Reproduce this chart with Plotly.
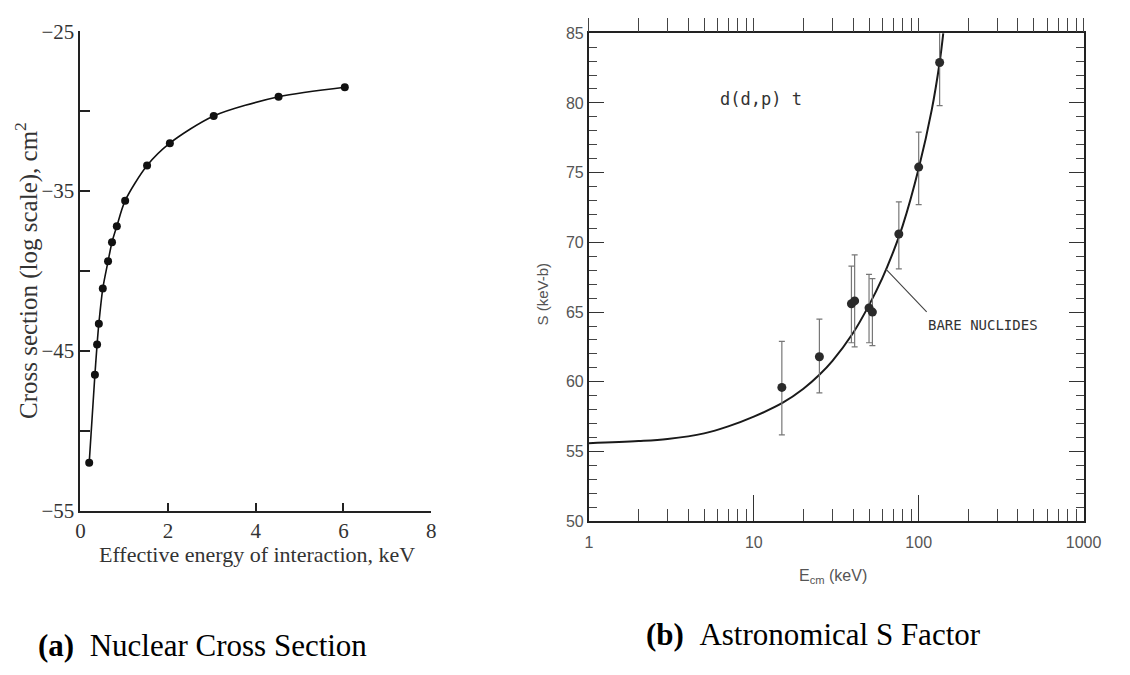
import plotly.graph_objects as go

# ---------- (a) Nuclear cross section ----------
energy_a = [0.2, 0.33, 0.38, 0.42, 0.51, 0.63, 0.72, 0.83, 1.02, 1.52, 2.04, 3.04, 4.52, 6.03]
xsec_a = [-52.0, -46.5, -44.6, -43.3, -41.1, -39.4, -38.2, -37.2, -35.6, -33.4, -32.0, -30.3, -29.1, -28.5]
xticks_a = [0, 2, 4, 6, 8]
yticks_a = [-55, -50, -45, -40, -35, -30, -25]
yticktext_a = ["\u221255", "", "\u221245", "", "\u221235", "", "\u221225"]

# ---------- (b) Astrophysical S factor ----------
curve_E = [1, 2, 3, 5, 7, 10, 15, 20, 25, 30, 40, 50, 60, 70, 80, 100, 120, 134, 141]
curve_S = [55.6, 55.75, 55.9, 56.3, 56.8, 57.5, 58.5, 59.5, 60.5, 61.5, 63.5, 65.5, 67.4, 69.3, 71.2, 75.3, 79.5, 82.9, 85.0]
data_E = [14.8, 25.0, 39.1, 40.9, 50.0, 52.4, 75.8, 100, 134]
data_S = [59.6, 61.8, 65.6, 65.8, 65.3, 65.0, 70.6, 75.4, 82.9]
data_hi = [62.9, 64.5, 68.3, 69.1, 67.7, 67.4, 72.9, 77.9, 86.0]
data_lo = [56.2, 59.2, 62.8, 62.5, 62.8, 62.6, 68.1, 72.7, 79.8]
xticks_b = [1, 10, 100, 1000]
xminor_b = [m * d for d in (1, 10, 100) for m in range(2, 10)]
yticks_b = [50, 55, 60, 65, 70, 75, 80, 85]
yminor_b = [v for v in range(50, 86) if v % 5]

W, H = 1130, 675
def px(x):
    return x / W
def py(y):
    return 1 - y / H

fig = go.Figure()

fig.add_trace(go.Scatter(
    x=energy_a, y=xsec_a, mode="lines+markers",
    line=dict(color="#111111", width=1.6, shape="spline", smoothing=0.8),
    marker=dict(color="#111111", size=8),
    xaxis="x", yaxis="y", showlegend=False,
))

fig.add_trace(go.Scatter(
    x=curve_E, y=curve_S, mode="lines",
    line=dict(color="#1a1a1a", width=2, shape="spline", smoothing=1.0),
    xaxis="x2", yaxis="y2", showlegend=False, cliponaxis=True,
))

fig.add_trace(go.Scatter(
    x=data_E, y=data_S, mode="markers",
    marker=dict(color="#2a2a2a", size=9),
    error_y=dict(type="data", symmetric=False,
                 array=[h - s for h, s in zip(data_hi, data_S)],
                 arrayminus=[s - l for s, l in zip(data_S, data_lo)],
                 color="#777777", thickness=1.2, width=3),
    xaxis="x2", yaxis="y2", showlegend=False,
))

# invisible trace so that the top (outward-tick) axis gets drawn
fig.add_trace(go.Scatter(
    x=data_E, y=data_S, mode="markers", marker=dict(opacity=0),
    hoverinfo="skip", xaxis="x3", yaxis="y2", showlegend=False,
))

serif = "Liberation Serif, Times New Roman, serif"
sans = "Liberation Sans, Arial, sans-serif"
mono = "DejaVu Sans Mono, monospace"

fig.update_layout(
    width=W, height=H, autosize=False,
    margin=dict(l=0, r=0, t=0, b=0),
    paper_bgcolor="white", plot_bgcolor="white",
    xaxis=dict(
        domain=[px(77), px(435)], anchor="y", range=[0, 8],
        tickmode="array", tickvals=xticks_a, ticktext=[str(v) for v in xticks_a],
        ticks="inside", ticklen=8, tickwidth=1.5, tickcolor="#222",
        showline=True, linecolor="#222", linewidth=1.8,
        showgrid=False, zeroline=False,
        tickfont=dict(family=serif, size=21, color="#333"),
    ),
    yaxis=dict(
        domain=[py(517), py(20)], anchor="x", range=[-55, -25],
        tickmode="array", tickvals=yticks_a, ticktext=yticktext_a,
        ticks="inside", ticklen=10, tickwidth=1.5, tickcolor="#222",
        showline=True, linecolor="#222", linewidth=1.8,
        showgrid=False, zeroline=False,
        tickfont=dict(family=serif, size=21, color="#333"),
    ),
    xaxis2=dict(
        domain=[px(596), px(1101)], anchor="y2", type="log", range=[0, 3],
        tickmode="array", tickvals=xticks_b, ticktext=[str(v) for v in xticks_b],
        ticks="inside", ticklen=26, tickwidth=1.2, tickcolor="#333",
        minor=dict(tickmode="array", tickvals=xminor_b, ticks="inside", ticklen=12,
                   tickwidth=1.2, tickcolor="#444", showgrid=False),
        showline=True, mirror=True, linecolor="#222", linewidth=1.8,
        showgrid=False, zeroline=False, ticklabelstandoff=6,
        tickfont=dict(family=sans, size=16, color="#555"),
    ),
    xaxis3=dict(
        domain=[px(596), px(1101)], anchor="y2", overlaying="x2", side="top",
        type="log", range=[0, 3],
        tickmode="array", tickvals=xticks_b + xminor_b, showticklabels=False,
        ticks="outside", ticklen=14, tickwidth=1.2, tickcolor="#444",
        showline=False, showgrid=False, zeroline=False,
    ),
    yaxis2=dict(
        domain=[py(528), py(22)], anchor="x2", range=[50, 85],
        tickmode="array", tickvals=yticks_b, ticktext=[str(v) for v in yticks_b],
        ticks="inside", ticklen=15, tickwidth=1.2, tickcolor="#333",
        minor=dict(tickmode="array", tickvals=yminor_b, ticks="inside", ticklen=8,
                   tickwidth=1.2, tickcolor="#444", showgrid=False),
        showline=True, mirror="ticks", linecolor="#222", linewidth=1.8,
        showgrid=False, zeroline=False,
        tickfont=dict(family=sans, size=16, color="#555"),
    ),
)

ann = []
# axis titles (a)
ann.append(dict(text="Effective energy of interaction, keV", x=px(257), y=py(563),
                xref="paper", yref="paper", showarrow=False, xanchor="center", yanchor="middle",
                font=dict(family=serif, size=22, color="#333")))
ann.append(dict(text="Cross section (log scale), cm<sup>2</sup>", x=px(22), y=py(268),
                xref="paper", yref="paper", showarrow=False, textangle=-90,
                xanchor="center", yanchor="middle",
                font=dict(family=serif, size=25, color="#333")))
# axis titles (b)
ann.append(dict(text="E<sub>cm</sub> (keV)", x=px(845), y=py(585),
                xref="paper", yref="paper", showarrow=False, xanchor="center", yanchor="middle",
                font=dict(family=sans, size=16, color="#555")))
ann.append(dict(text="S (keV-b)", x=px(549), y=py(292),
                xref="paper", yref="paper", showarrow=False, textangle=-90,
                xanchor="center", yanchor="middle",
                font=dict(family=sans, size=15, color="#555")))
# in-plot labels (b)
ann.append(dict(text="d(d,p) t", x=0.784, y=80.3, xref="x2", yref="y2", showarrow=False,
                xanchor="left", yanchor="middle",
                font=dict(family=mono, size=17, color="#333")))
ann.append(dict(text="BARE NUCLIDES", x=2.046, y=64.1, xref="x2", yref="y2", showarrow=False,
                xanchor="left", yanchor="middle",
                font=dict(family=mono, size=14, color="#333")))
ann.append(dict(text="", x=1.80, y=68.1, xref="x2", yref="y2",
                ax=2.057, ay=64.9, axref="x2", ayref="y2",
                showarrow=True, arrowhead=0, arrowwidth=1.1, arrowcolor="#444"))
# captions
ann.append(dict(text="<b>(a)</b>\u00a0\u00a0Nuclear Cross Section", x=px(32), y=py(657),
                xref="paper", yref="paper", showarrow=False, xanchor="left", yanchor="middle",
                font=dict(family=serif, size=31, color="#000")))
ann.append(dict(text="<b>(b)</b>\u00a0\u00a0Astronomical S Factor", x=px(652), y=py(645),
                xref="paper", yref="paper", showarrow=False, xanchor="left", yanchor="middle",
                font=dict(family=serif, size=31, color="#000")))
fig.update_layout(annotations=ann)

fig.write_html("out.html")
